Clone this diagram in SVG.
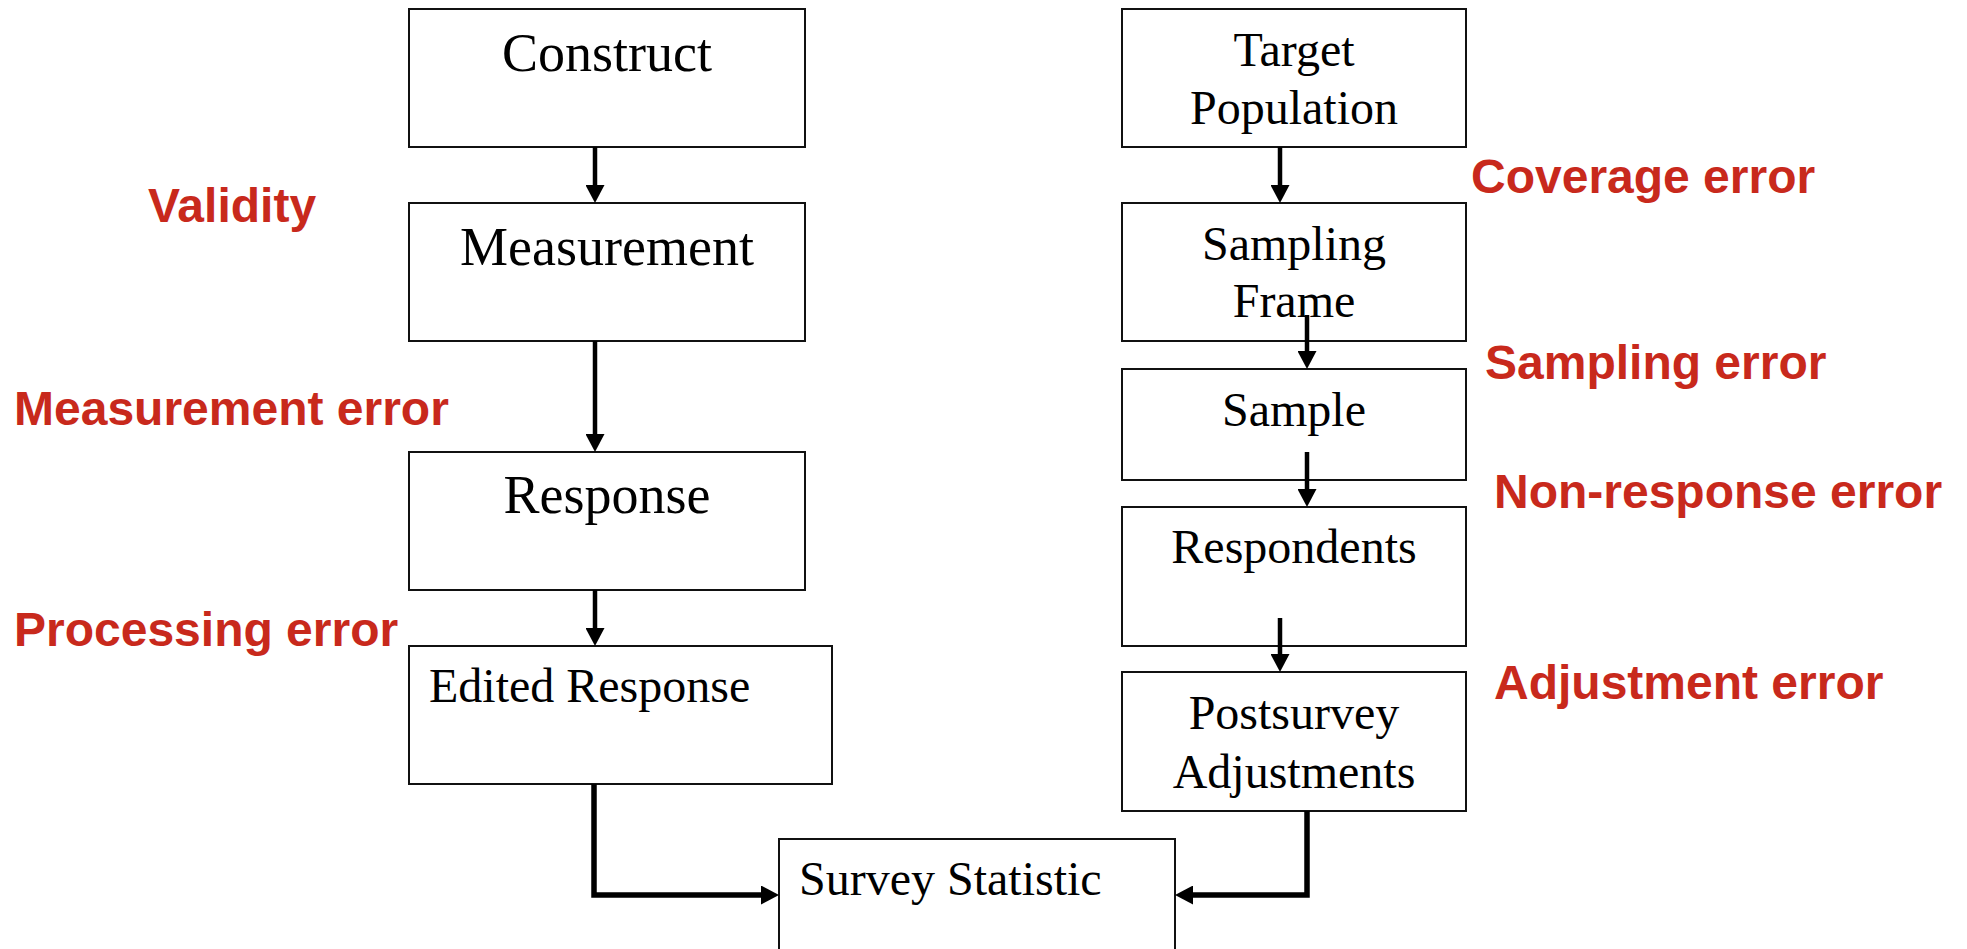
<svg xmlns="http://www.w3.org/2000/svg" width="1967" height="949" viewBox="0 0 1967 949">
  <style>
    .box { fill: #ffffff; stroke: #111111; stroke-width: 2; }
    .lbl { font-family: "Liberation Serif", "Times New Roman", serif; fill: #000000; }
    .big { font-size: 54px; }
    .mid { font-size: 48px; }
    .err { font-family: "Liberation Sans", Arial, sans-serif; font-weight: bold; font-size: 48px; fill: #C8291C; }
    .wire { fill: none; stroke: #000000; stroke-width: 4.5; }
    .wire-thick { fill: none; stroke: #000000; stroke-width: 5.5; }
  </style>
  <defs>
    <marker id="head" markerUnits="userSpaceOnUse" markerWidth="19" markerHeight="19" refX="6" refY="9.5" orient="auto">
      <path d="M0,0 L18,9.5 L0,19 z" fill="#000000"/>
    </marker>
  </defs>

  <rect width="1967" height="949" fill="#ffffff"/>

  <!-- measurement side -->
  <g id="construct">
    <rect class="box" x="409" y="9" width="396" height="138"/>
    <text class="lbl big" x="607" y="71" text-anchor="middle">Construct</text>
  </g>
  <g id="measurement">
    <rect class="box" x="409" y="203" width="396" height="138"/>
    <text class="lbl big" x="607" y="265" text-anchor="middle">Measurement</text>
  </g>
  <g id="response">
    <rect class="box" x="409" y="452" width="396" height="138"/>
    <text class="lbl big" x="607" y="513" text-anchor="middle">Response</text>
  </g>
  <g id="edited-response">
    <rect class="box" x="409" y="646" width="423" height="138"/>
    <text class="lbl mid" x="429" y="702">Edited Response</text>
  </g>

  <!-- representation side -->
  <g id="target-population">
    <rect class="box" x="1122" y="9" width="344" height="138"/>
    <text class="lbl mid" x="1294" y="66" text-anchor="middle">Target</text>
    <text class="lbl mid" x="1294" y="124" text-anchor="middle">Population</text>
  </g>
  <g id="sampling-frame">
    <rect class="box" x="1122" y="203" width="344" height="138"/>
    <text class="lbl mid" x="1294" y="260" text-anchor="middle">Sampling</text>
    <text class="lbl mid" x="1294" y="317" text-anchor="middle">Frame</text>
  </g>
  <g id="sample">
    <rect class="box" x="1122" y="369" width="344" height="111"/>
    <text class="lbl mid" x="1294" y="426" text-anchor="middle">Sample</text>
  </g>
  <g id="respondents">
    <rect class="box" x="1122" y="507" width="344" height="139"/>
    <text class="lbl mid" x="1294" y="563" text-anchor="middle">Respondents</text>
  </g>
  <g id="postsurvey-adjustments">
    <rect class="box" x="1122" y="672" width="344" height="139"/>
    <text class="lbl mid" x="1294" y="729" text-anchor="middle">Postsurvey</text>
    <text class="lbl mid" x="1294" y="788" text-anchor="middle">Adjustments</text>
  </g>

  <!-- final estimate -->
  <g id="survey-statistic">
    <rect class="box" x="779" y="839" width="396" height="130"/>
    <text class="lbl mid" x="799" y="895">Survey Statistic</text>
  </g>

  <!-- error sources -->
  <g id="error-labels">
    <text class="err" x="148" y="222">Validity</text>
    <text class="err" x="14" y="425">Measurement error</text>
    <text class="err" x="14" y="646">Processing error</text>
    <text class="err" x="1471" y="193">Coverage error</text>
    <text class="err" x="1485" y="379">Sampling error</text>
    <text class="err" x="1494" y="508">Non-response error</text>
    <text class="err" x="1494" y="699">Adjustment error</text>
  </g>

  <g id="connectors">
    <line class="wire" x1="595" y1="147" x2="595" y2="191" marker-end="url(#head)"/>
    <line class="wire" x1="595" y1="341" x2="595" y2="440" marker-end="url(#head)"/>
    <line class="wire" x1="595" y1="590" x2="595" y2="634" marker-end="url(#head)"/>
    <polyline class="wire-thick" points="594,784 594,895 767,895" marker-end="url(#head)"/>

    <line class="wire" x1="1280" y1="147" x2="1280" y2="191" marker-end="url(#head)"/>
    <line class="wire" x1="1307" y1="315" x2="1307" y2="357" marker-end="url(#head)"/>
    <line class="wire" x1="1307" y1="452" x2="1307" y2="495" marker-end="url(#head)"/>
    <line class="wire" x1="1280" y1="618" x2="1280" y2="660" marker-end="url(#head)"/>
    <polyline class="wire-thick" points="1307,811 1307,895 1187,895" marker-end="url(#head)"/>
  </g>
</svg>
